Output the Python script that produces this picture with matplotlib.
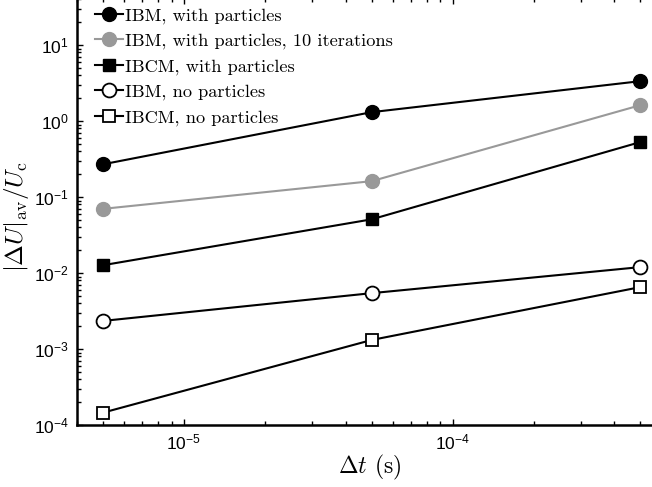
import matplotlib.pyplot as plt
import numpy as np

# time steps (s)
dt = [5e-6, 5e-5, 5e-4]

# error values
ibm_part = [0.27, 1.31, 3.35]
ibm_part_10 = [0.070, 0.162, 1.62]
ibcm_part = [0.0127, 0.051, 0.53]
ibm_nopart = [0.00235, 0.00545, 0.0120]
ibcm_nopart = [0.000146, 0.00132, 0.00655]

labels = ['IBM, with particles', 'IBM, with particles, 10 iterations',
          'IBCM, with particles', 'IBM, no particles', 'IBCM, no particles']

plt.rcParams['font.family'] = ['Liberation Sans', 'DejaVu Sans']
plt.rcParams['mathtext.fontset'] = 'cm'
plt.rcParams['axes.formatter.use_mathtext'] = True

fig = plt.figure(figsize=(6.52, 4.87), dpi=100)
ax = fig.add_axes([0.118, 0.127, 0.897, 0.877])

ax.plot(dt, ibm_part, '-o', color='black', lw=1.5, ms=10, label=labels[0])
ax.plot(dt, ibm_part_10, '-o', color='#999999', lw=1.5, ms=10,
        label=labels[1])
ax.plot(dt, ibcm_part, '-s', color='black', lw=1.5, ms=9, label=labels[2])
ax.plot(dt, ibm_nopart, '-o', color='black', lw=1.5, ms=10, mfc='white',
        mew=1.3, label=labels[3])
ax.plot(dt, ibcm_nopart, '-s', color='black', lw=1.5, ms=9, mfc='white',
        mew=1.3, label=labels[4])

ax.set_xscale('log')
ax.set_yscale('log')
ax.set_xlim(4e-6, 6e-4)
ax.set_ylim(1e-4, 41.5)

ax.tick_params(which='both', direction='in', top=True, right=True,
               labelsize=12.5, width=1)
ax.tick_params(which='major', length=4, pad=5)
ax.tick_params(axis='y', which='major', pad=6)
ax.tick_params(which='minor', length=3)
for s in ax.spines.values():
    s.set_linewidth(1.8)

ax.set_xlabel(r'$\Delta t$ (s)', fontsize=17, fontfamily='cmr10')
ax.set_ylabel(r'$|\Delta U|_{\rm av}/U_{\rm c}$', fontsize=18)
ax.xaxis.set_label_coords(0.5, -0.066)
ax.yaxis.set_label_coords(-0.078, 0.49)

leg = ax.legend(loc='upper left', frameon=False, handlelength=1.5,
                handletextpad=0.15, labelspacing=0.5, borderpad=0.3,
                bbox_to_anchor=(0.006, 1.012),
                prop={'family': 'cmr10', 'size': 13.2})

fig.savefig('out.png', dpi=100)
